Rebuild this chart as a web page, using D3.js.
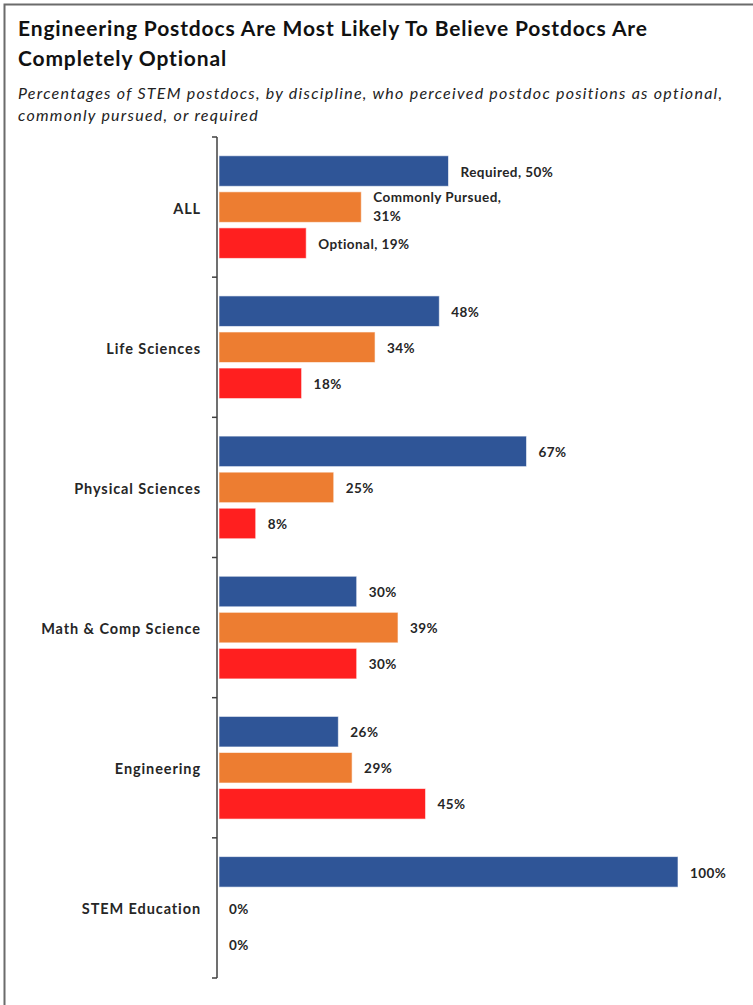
<!DOCTYPE html>
<html><head><meta charset="utf-8">
<script src="https://cdn.jsdelivr.net/npm/d3@7"></script>
<style>
html,body{margin:0;padding:0;background:#fff;}
svg{display:block;}
text{font-family:Lato,"Open Sans",sans-serif;}
</style></head>
<body>
<script>
const categories = ["ALL","Life Sciences","Physical Sciences","Math & Comp Science","Engineering","STEM Education"];
const seriesNames = ["Required","Commonly Pursued","Optional"];
const required = [50,48,67,30,26,100];
const commonlyPursued = [31,34,25,39,29,0];
const optional = [19,18,8,30,45,0];
const seriesColors = ["#2F5597","#ED7D31","#FF1F1F"];
const titleLines = ["Engineering Postdocs Are Most Likely To Believe Postdocs Are","Completely Optional"];
const subtitleLines = ["Percentages of STEM postdocs, by discipline, who perceived postdoc positions as optional,","commonly pursued, or required"];

const W=753,H=1005;
const svg=d3.select("body").append("svg").attr("width",W).attr("height",H);
svg.append("rect").attr("width",W).attr("height",H).attr("fill","#fff");
// frame
svg.append("path").attr("d",`M4.5,${H} L4.5,4.5 L${W},4.5`).attr("fill","none").attr("stroke","#6b6b6b").attr("stroke-width",2);

svg.selectAll("text.title").data(titleLines).join("text").attr("class","title")
  .attr("x",18).attr("y",(d,i)=>36+i*30).attr("font-size",21).attr("letter-spacing",0.85)
  .attr("font-weight",700).attr("fill","#111").text(d=>d);
svg.selectAll("text.sub").data(subtitleLines).join("text").attr("class","sub")
  .attr("x",18).attr("y",(d,i)=>99+i*22).attr("font-size",16).attr("letter-spacing",1.26)
  .attr("font-style","italic").attr("fill","#222").text(d=>d);

const x=d3.scaleLinear().domain([0,100]).range([219,678]);
const y=d3.scaleBand().domain(categories).range([137,978]).paddingInner(0).paddingOuter(0);
const ys=d3.scaleBand().domain(seriesNames).range([0,y.bandwidth()]).paddingInner(0.153).paddingOuter(0.52);

const data=[];
categories.forEach((c,i)=>{
  const vals=[required[i],commonlyPursued[i],optional[i]];
  seriesNames.forEach((s,j)=>data.push({c,s,j,v:vals[j],i}));
});

const g=svg.append("g");
g.selectAll("rect.bar").data(data).join("rect").attr("class","bar")
  .attr("x",x(0)).attr("y",d=>y(d.c)+ys(d.s)).attr("width",d=>x(d.v)-x(0)).attr("height",ys.bandwidth())
  .attr("fill",d=>seriesColors[d.j]).attr("stroke",d=>d.v>0?"rgba(255,255,255,0.6)":"none").attr("stroke-width",1);

// labels
const lbl=g.selectAll("text.lbl").data(data).join("text").attr("class","lbl")
  .attr("font-size",13.5).attr("letter-spacing",0.45).attr("font-weight",700).attr("fill","#262626")
  .attr("x",d=>x(d.v)+ (d.v===0?10:12))
  .attr("y",d=>y(d.c)+ys(d.s)+ys.bandwidth()/2).attr("dy","0.42em");
lbl.each(function(d){
  const t=d3.select(this);
  if(d.i===0){
    if(d.j===1){
      t.attr("dy",null);
      t.append("tspan").attr("x",x(d.v)+12).attr("dy",-5).text(d.s+",");
      t.append("tspan").attr("x",x(d.v)+12).attr("dy",19).text(d.v+"%");
    } else t.text(d.s+", "+d.v+"%");
  } else t.text(d.v+"%");
});

// axis
const ax=svg.append("g").attr("transform",`translate(217,0)`);
ax.append("line").attr("x1",0).attr("x2",0).attr("y1",y.range()[0]).attr("y2",y.range()[1]).attr("stroke","#404040").attr("stroke-width",1.5);
const tickYs=categories.map(c=>y(c)).concat([y.range()[1]]);
ax.selectAll("line.tk").data(tickYs).join("line").attr("class","tk").attr("x1",-5).attr("x2",0).attr("y1",d=>d).attr("y2",d=>d).attr("stroke","#404040").attr("stroke-width",1.5);
svg.selectAll("text.cat").data(categories).join("text").attr("class","cat")
  .attr("x",201).attr("y",d=>y(d)+y.bandwidth()/2).attr("dy","0.45em").attr("text-anchor","end")
  .attr("font-size",14.5).attr("letter-spacing",0.9).attr("font-weight",700).attr("fill","#262626").text(d=>d);
</script>
</body></html>
